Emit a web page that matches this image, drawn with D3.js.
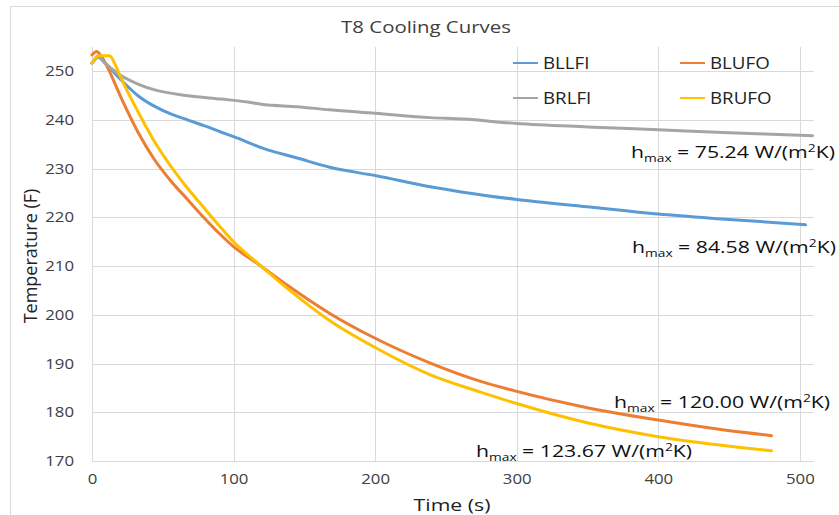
<!DOCTYPE html>
<html><head><meta charset="utf-8">
<script src="https://cdn.jsdelivr.net/npm/d3@7"></script>
<style>
html,body{margin:0;padding:0;background:#fff;}
svg{display:block;font-family:"Open Sans",sans-serif;}
</style></head>
<body>
<svg id="c" width="839" height="515"></svg>
<script>
// ---- data ----
const seriesNames = ["BLLFI", "BLUFO", "BRLFI", "BRUFO"];
const seriesColors = ["#5B9BD5", "#ED7D31", "#A5A5A5", "#FFC000"];

const bllfiTime = [0, 4.5, 8.9, 20.7, 32.5, 44.3, 56, 67.8, 79.6, 91.4, 100, 121, 145, 168, 200, 239, 262, 300, 350, 400, 450, 504];
const bllfiTemp = [251.7, 252.9, 251.8, 248.2, 245.0, 242.8, 241.2, 240.0, 238.8, 237.5, 236.6, 234.2, 232.2, 230.3, 228.6, 226.3, 225.2, 223.7, 222.2, 220.7, 219.6, 218.5];

const blufoTime = [0, 3.3, 6.8, 11.3, 20.7, 32.5, 44.3, 56, 67.8, 79.6, 91.4, 100, 117.5, 136, 168, 200, 239, 274, 300, 349, 400, 443, 480];
const blufoTemp = [253.4, 254.1, 253.0, 250.6, 244.5, 237.5, 231.8, 227.4, 223.6, 219.8, 216.3, 214.0, 210.4, 206.5, 200.3, 195.2, 190.1, 186.4, 184.3, 181.0, 178.4, 176.5, 175.2];

const brlfiTime = [0, 4.5, 10, 20.7, 32.5, 44.3, 67.8, 91.4, 110, 121, 145, 168, 200, 239, 262, 300, 350, 400, 450, 500, 509];
const brlfiTemp = [251.7, 252.9, 251.5, 249.1, 247.4, 246.2, 245.0, 244.3, 243.7, 243.2, 242.75, 242.1, 241.4, 240.5, 240.2, 239.3, 238.6, 238.0, 237.4, 236.9, 236.8];

const brufoTime = [0, 4.5, 12.5, 16, 20.7, 32.5, 44.3, 56, 67.8, 79.6, 91.4, 100, 117.5, 136, 168, 200, 239, 274, 300, 349, 400, 443, 480];
const brufoTemp = [251.7, 253.2, 253.2, 251.6, 248.5, 241.7, 235.5, 230.4, 225.9, 221.8, 217.8, 215.0, 210.5, 205.9, 198.8, 193.3, 187.7, 184.2, 181.8, 177.9, 175.0, 173.3, 172.1];

const xTicks = [0, 100, 200, 300, 400, 500];
const yTicks = [170, 180, 190, 200, 210, 220, 230, 240, 250];

const annotValues = ["75.24", "84.58", "120.00", "123.67"];

// ---- layout ----
const svg = d3.select("#c");
const L = 92, R = 814, T = 47, B = 461;
const x = d3.scaleLinear().domain([0, 510]).range([L, R]);
const y = d3.scaleLinear().domain([170, 255]).range([B, T]);
const SX = 1.2; // horizontal stretch of the text in the reference

function stretchedText(px, py, sx, size) {
  return svg.append("g").attr("transform", `translate(${px},${py}) scale(${sx},1)`)
    .append("text").attr("x", 0).attr("y", 0).attr("font-size", size);
}

// chart border
svg.append("rect").attr("x", 10.5).attr("y", 6.5).attr("width", 840).attr("height", 520)
  .attr("fill", "#fff").attr("stroke", "#D9D9D9").attr("stroke-width", 1);

// gridlines
const grid = svg.append("g");
grid.selectAll(".hg").data(yTicks).join("line")
  .attr("x1", L).attr("x2", R)
  .attr("y1", d => Math.round(y(d)) + 0.5).attr("y2", d => Math.round(y(d)) + 0.5)
  .attr("stroke", "#D9D9D9").attr("stroke-width", 1);
grid.selectAll(".vg").data(xTicks).join("line")
  .attr("y1", T).attr("y2", B)
  .attr("x1", d => Math.round(x(d)) + 0.5).attr("x2", d => Math.round(x(d)) + 0.5)
  .attr("stroke", "#D9D9D9").attr("stroke-width", 1);

// axes via d3 axis (labels only)
const yAxis = svg.append("g").attr("transform", `translate(${L},0)`)
  .call(d3.axisLeft(y).tickValues(yTicks).tickSize(0).tickPadding(15));
const xAxis = svg.append("g").attr("transform", `translate(0,${B})`)
  .call(d3.axisBottom(x).tickValues(xTicks).tickSize(0).tickPadding(13));
[yAxis, xAxis].forEach(a => {
  a.select(".domain").remove();
  a.selectAll("text").attr("font-family", "Open Sans, sans-serif").attr("font-size", 14)
    .attr("fill", "#404040").attr("transform", `scale(${SX},1)`);
});

// lines
const series = [
  {name: seriesNames[0], color: seriesColors[0], t: bllfiTime, v: bllfiTemp},
  {name: seriesNames[1], color: seriesColors[1], t: blufoTime, v: blufoTemp},
  {name: seriesNames[2], color: seriesColors[2], t: brlfiTime, v: brlfiTemp},
  {name: seriesNames[3], color: seriesColors[3], t: brufoTime, v: brufoTemp}
];
const line = d3.line().x(d => x(d[0])).y(d => y(d[1])).curve(d3.curveMonotoneX);
svg.append("g").selectAll("path").data(series).join("path")
  .attr("d", s => line(s.t.map((t, i) => [t, s.v[i]])))
  .attr("fill", "none").attr("stroke", s => s.color).attr("stroke-width", 3)
  .attr("stroke-linejoin", "round").attr("stroke-linecap", "round");

// title
stretchedText(426, 33, SX, 17).attr("text-anchor", "middle").attr("fill", "#404040").text("T8 Cooling Curves");

// axis titles
stretchedText(452, 511, 1.25, 17).attr("text-anchor", "middle").attr("fill", "#222").text("Time (s)");
svg.append("text").attr("transform", "translate(37,256) rotate(-90)").attr("text-anchor", "middle")
  .attr("font-size", 18).attr("fill", "#222").text("Temperature (F)");

// legend
const legPos = [[513, 63], [680, 63], [513, 98], [680, 98]];
series.forEach((s, i) => {
  svg.append("line").attr("x1", legPos[i][0]).attr("x2", legPos[i][0] + 25)
    .attr("y1", legPos[i][1]).attr("y2", legPos[i][1])
    .attr("stroke", s.color).attr("stroke-width", 2);
  stretchedText(legPos[i][0] + 30, legPos[i][1] + 6, 1.17, 16).attr("fill", "#222").text(s.name);
});

// annotations
const annotPos = [[631, 158], [632, 253], [614, 408], [476, 457]];
annotValues.forEach((v, i) => {
  const t = stretchedText(annotPos[i][0], annotPos[i][1], 1.25, 17).attr("fill", "#111");
  t.append("tspan").text("h");
  t.append("tspan").attr("font-size", 11).attr("dy", 4).text("max");
  t.append("tspan").attr("dy", -4).text(" = " + v + " W/(m");
  t.append("tspan").attr("font-size", 11).attr("dy", -6).text("2");
  t.append("tspan").attr("dy", 6).text("K)");
});
</script>
</body></html>
